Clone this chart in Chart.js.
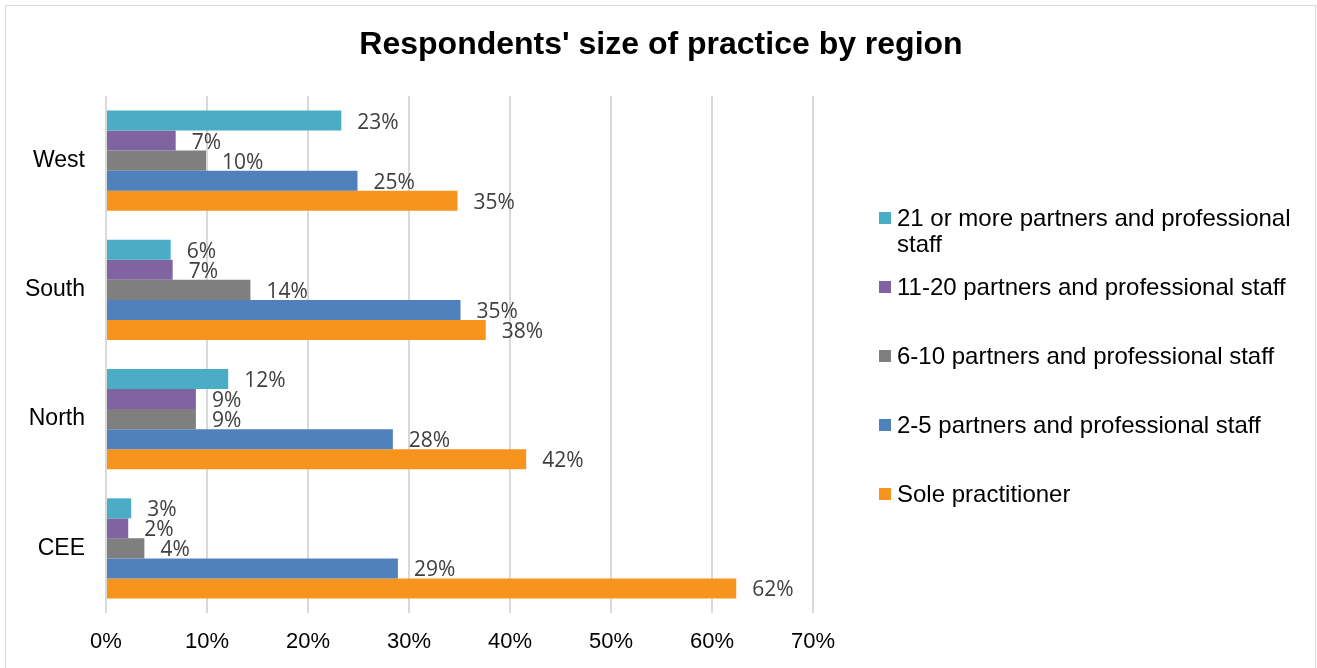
<!DOCTYPE html>
<html>
<head>
<meta charset="utf-8">
<title>Respondents' size of practice by region</title>
<script src="https://cdn.jsdelivr.net/npm/chart.js@4.4.1/dist/chart.umd.min.js"></script>
<style>
  html, body { margin: 0; padding: 0; background: #fff; }
  #wrap { position: relative; width: 1317px; height: 668px; }
  #frame {
    position: absolute; left: 5px; top: 5px; width: 1311px; height: 670px;
    border: 1px solid #d9d9d9; box-sizing: border-box; pointer-events: none;
  }
</style>
</head>
<body>
<div id="wrap">
  <canvas id="practiceChart" width="1317" height="668"></canvas>
  <div id="frame"></div>
</div>
<script>
const regions = ["West", "South", "North", "CEE"];

// share of respondents (%) per region, one array per practice size
const over21 = [23.3, 6.4, 12.1, 2.5];
const p11to20 = [6.9, 6.6, 8.9, 2.2];
const p6to10 = [9.9, 14.3, 8.9, 3.8];
const p2to5 = [24.9, 35.1, 28.4, 28.9];
const sole = [34.8, 37.6, 41.6, 62.4];

const seriesNames = [
  ["21 or more partners and professional", "staff"],
  "11-20 partners and professional staff",
  "6-10 partners and professional staff",
  "2-5 partners and professional staff",
  "Sole practitioner"
];
const seriesColors = ["#4bacc6", "#8064a2", "#7f7f7f", "#4f81bd", "#f7941e"];
const xTicks = [0, 10, 20, 30, 40, 50, 60, 70];
const chartTitle = "Respondents' size of practice by region";

const seriesData = [over21, p11to20, p6to10, p2to5, sole];
const arial = "'Liberation Sans', Arial, sans-serif";

// percentage written just past the end of every bar
const barLabels = {
  id: "barLabels",
  afterDatasetsDraw(chart) {
    const ctx = chart.ctx;
    ctx.save();
    ctx.font = "21px 'Open Sans'";
    ctx.fillStyle = "#404040";
    ctx.textAlign = "left";
    ctx.textBaseline = "middle";
    chart.data.datasets.forEach((ds, i) => {
      chart.getDatasetMeta(i).data.forEach((bar, j) => {
        ctx.fillText(Math.round(ds.data[j]) + "%", bar.x + 16, bar.y + 2);
      });
    });
    ctx.restore();
  }
};

// title centred over the whole canvas, legend included
const wideTitle = {
  id: "wideTitle",
  afterDraw(chart) {
    const ctx = chart.ctx;
    ctx.save();
    ctx.font = "bold 32px " + arial;
    ctx.fillStyle = "#000";
    ctx.textAlign = "center";
    ctx.textBaseline = "middle";
    ctx.fillText(chartTitle, 661, 45);
    ctx.restore();
  }
};

// legend on the right, long names wrap onto a second line
const sideLegend = {
  id: "sideLegend",
  afterDraw(chart) {
    const ctx = chart.ctx;
    const x = 879, top = 218, step = 69;
    ctx.save();
    ctx.font = "24px " + arial;
    ctx.textAlign = "left";
    ctx.textBaseline = "middle";
    chart.data.datasets.forEach((ds, i) => {
      const y = top + i * step;
      ctx.fillStyle = ds.backgroundColor;
      ctx.fillRect(x, y - 6, 12, 12);
      ctx.fillStyle = "#000";
      const lines = Array.isArray(ds.label) ? ds.label : [ds.label];
      lines.forEach((line, k) => ctx.fillText(line, x + 18, y + 1 + k * 26));
    });
    ctx.restore();
  }
};

const ctx = document.getElementById("practiceChart").getContext("2d");
new Chart(ctx, {
  type: "bar",
  data: {
    labels: regions,
    datasets: seriesData.map((values, i) => ({
      label: seriesNames[i],
      data: values,
      backgroundColor: seriesColors[i],
      borderWidth: 0,
      categoryPercentage: 0.774,
      barPercentage: 1.0
    }))
  },
  options: {
    indexAxis: "y",
    responsive: false,
    animation: false,
    layout: { padding: { left: 0, right: 504, top: 96, bottom: 0 } },
    plugins: {
      legend: { display: false },
      tooltip: { enabled: false },
      title: { display: false }
    },
    scales: {
      x: {
        min: 0,
        max: 70,
        afterBuildTicks(scale) {
          scale.ticks = xTicks.map(v => ({ value: v }));
        },
        afterFit(scale) { scale.height = 55; },
        ticks: {
          color: "#000",
          padding: 16,
          font: { family: arial, size: 22 },
          callback: v => v + "%"
        },
        grid: { color: "#d9d9d9", lineWidth: 2, drawTicks: false },
        border: { display: false }
      },
      y: {
        afterFit(scale) { scale.width = 106; },
        ticks: {
          color: "#000",
          padding: 21,
          font: { family: arial, size: 23 }
        },
        grid: { display: false, drawTicks: false },
        border: { display: false }
      }
    }
  },
  plugins: [barLabels, wideTitle, sideLegend]
});
</script>
</body>
</html>
